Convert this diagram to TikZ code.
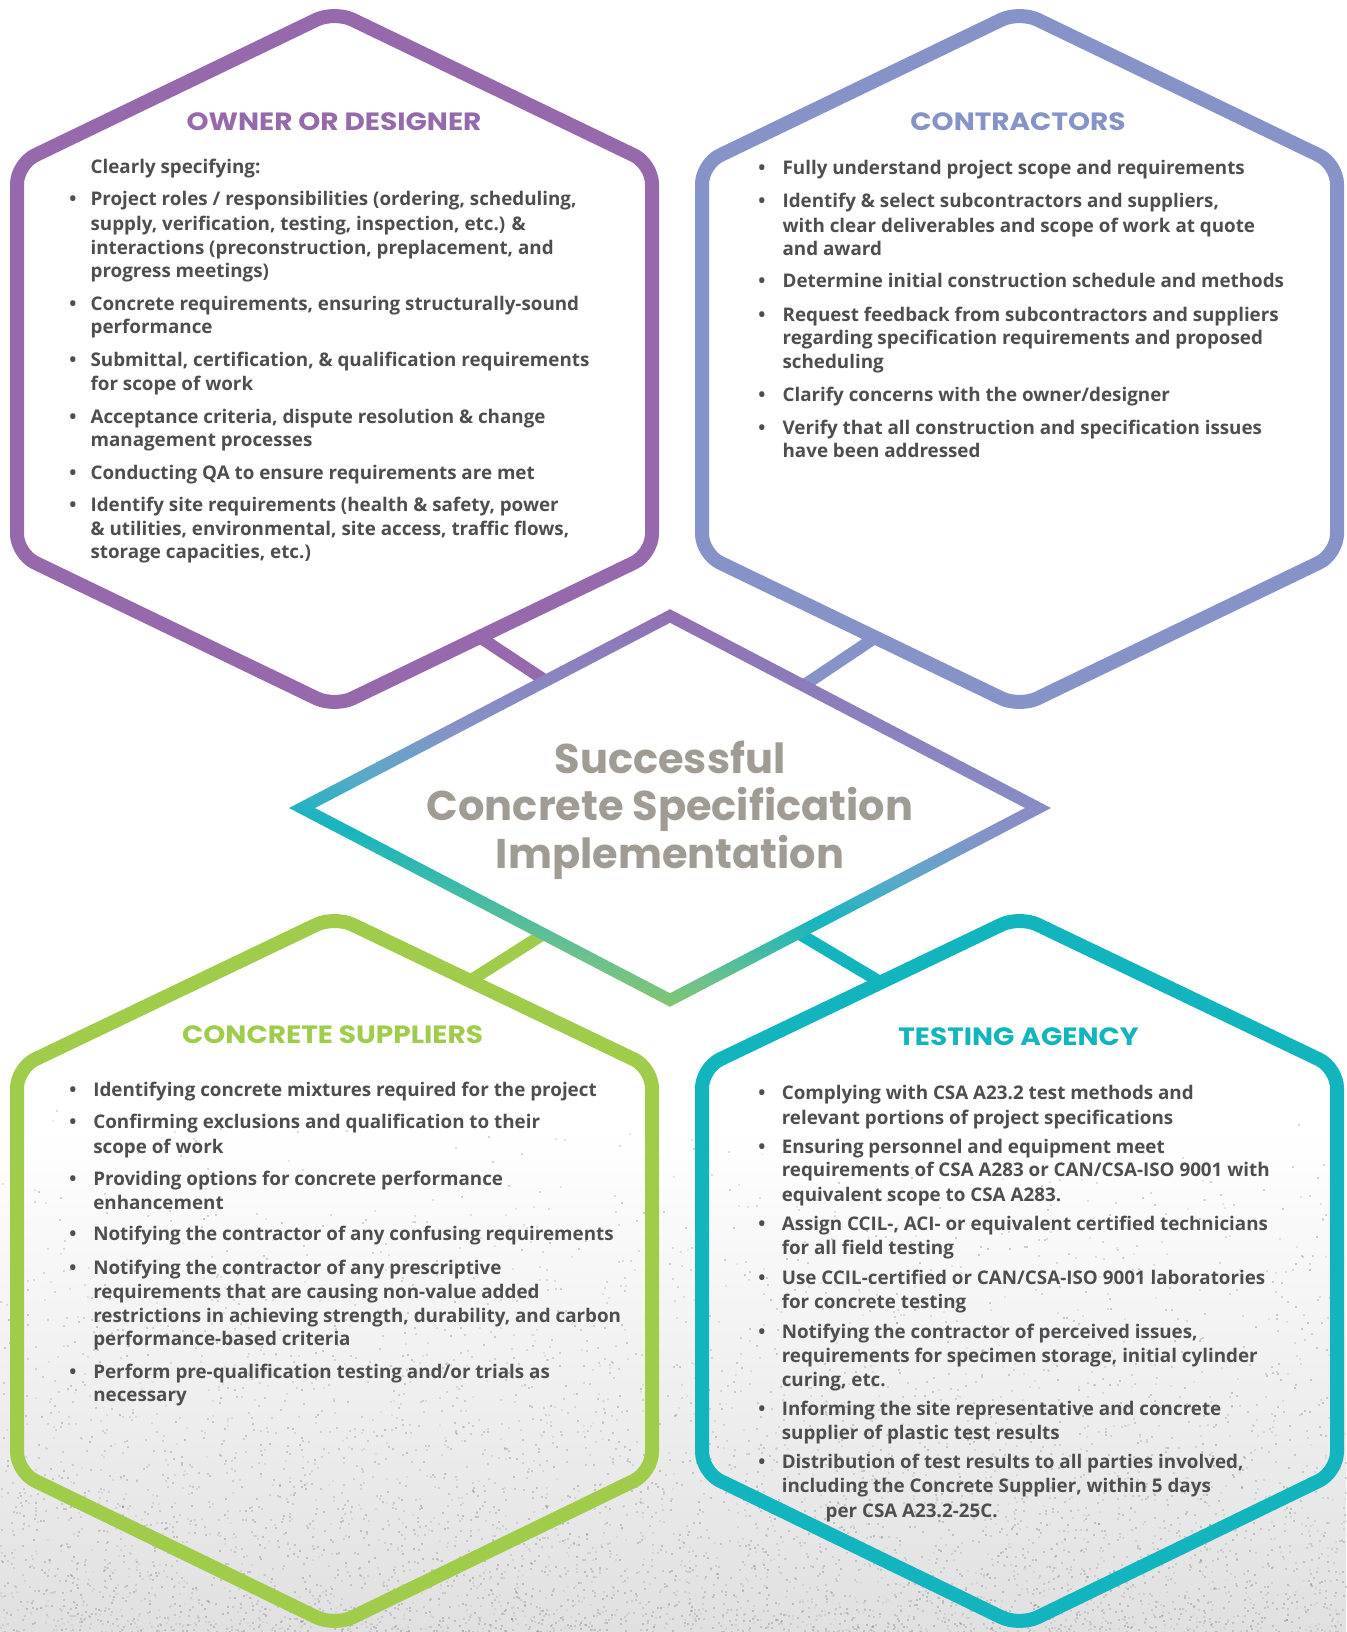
\documentclass[tikz,border=0pt]{standalone}
\usepackage{fontspec}
\setmainfont{Open Sans}
\newfontfamily\headfont{Poppins}
\newfontfamily\headwide{Poppins}[FakeStretch=1.12]
\usetikzlibrary{calc}
\definecolor{cpur}{HTML}{9669AD}
\definecolor{cblu}{HTML}{8593C8}
\definecolor{cgrn}{HTML}{9FCC4B}
\definecolor{ctea}{HTML}{12B5BE}
\definecolor{ctxt}{HTML}{4E4E50}
\definecolor{ctit}{HTML}{A09C94}
\definecolor{bgg}{HTML}{E0E0E0}
\definecolor{dP}{HTML}{9568AC}
\definecolor{dBP}{HTML}{8A84C0}
\definecolor{dB}{HTML}{8593C8}
\definecolor{dTB}{HTML}{5AA9C9}
\definecolor{dT}{HTML}{16B5BF}
\definecolor{dGT}{HTML}{6EC18C}
\definecolor{dG}{HTML}{96CA55}
\pgfdeclareverticalshading{dmdshade}{100bp}{color(0bp)=(dG); color(25bp)=(dG); color(32bp)=(dGT); color(41bp)=(dT); color(47bp)=(dTB); color(54bp)=(dB); color(62bp)=(dBP); color(75bp)=(dP); color(100bp)=(dP)}
\tikzset{
  hexline/.style={line width=14pt, rounded corners=20pt, line join=round},
  conn/.style={line width=12pt},
  bodytxt/.style={anchor=base west, inner sep=0pt, text=ctxt, font=\fontsize{18.8}{24}\selectfont\bfseries},
  bultxt/.style={anchor=base, inner sep=0pt, text=ctxt, font=\fontsize{18.8}{24}\selectfont\bfseries},
  headtxt/.style={anchor=base, inner sep=0pt, font=\headwide\fontsize{25}{28}\selectfont\bfseries},
  titletxt/.style={anchor=base, inner sep=0pt, text=ctit, font=\headfont\fontsize{41.5}{48}\selectfont\bfseries}
}
\newcommand\drawhex[7]{%
  \coordinate (#1-t) at (#2,#3);
  \coordinate (#1-r1) at (#2+317.5,#4);
  \coordinate (#1-r2) at (#2+317.5,#5);
  \coordinate (#1-b) at (#2,#6);
  \coordinate (#1-l2) at (#2-317.5,#5);
  \coordinate (#1-l1) at (#2-317.5,#4);
  \draw[hexline,draw=#7] (#1-t) -- (#1-r1) -- (#1-r2) -- (#1-b) -- (#1-l2) -- (#1-l1) -- cycle;}
\newcommand\tline[4]{\node[bodytxt] (#1) at (#2,#3+7) {#4};}
\newcommand\bul[3]{\node[bultxt] (#1) at (#2,#3+7) {\textbullet};}
\begin{document}
\begin{tikzpicture}[x=1pt,y=-1pt]
\useasboundingbox (0,0) rectangle (1346,1632);
\fill[white] (0,0) rectangle (1346,1632);
\shade[top color=white, bottom color=bgg] (0,1130) rectangle (1346,1632);
\pgfmathsetseed{12345}
\foreach \i in {1,...,5500}{
  \pgfmathsetmacro\sx{1346*rnd}
  \pgfmathsetmacro\sy{1632-540*rnd*rnd}
  \pgfmathsetmacro\sg{25+40*rnd}
  \fill[black!\sg!white, opacity=.3] (\sx,\sy) rectangle ++(2,2);
}
% connectors
\coordinate (pc-a) at (478,636);   \coordinate (pc-b) at (546,681);
\coordinate (bc-a) at (877,636.3); \coordinate (bc-b) at (803.5,685.6);
\coordinate (gc-a) at (470.6,980.4); \coordinate (gc-b) at (543.5,934.1);
\coordinate (tc-a) at (880.2,982); \coordinate (tc-b) at (798.2,933.1);
\draw[conn,cpur] (pc-a) -- (pc-b);
\draw[conn,cblu] (bc-a) -- (bc-b);
\draw[conn,cgrn] (gc-a) -- (gc-b);
\draw[conn,ctea] (tc-a) -- (tc-b);
% hexagons
\drawhex{p}{334.5}{11}{164}{554}{707}{cpur}
\drawhex{c}{1019.5}{11}{164}{554}{707}{cblu}
\drawhex{g}{334.5}{916}{1068}{1472}{1626}{cgrn}
\drawhex{q}{1019.5}{916}{1068}{1472}{1626}{ctea}
% diamond
\shade[shading=dmdshade, shading angle=-11, even odd rule]
 (670,808-198.8) -- (670+381,808) -- (670,808+198.8) -- (670-381,808) -- cycle
 (670,808-185.2) -- (670+355,808) -- (670,808+185.2) -- (670-355,808) -- cycle;
\node[titletxt] (ti1) at (670,773) {Successful};
\node[titletxt] (ti2) at (670,820) {Concrete Specification};
\node[titletxt] (ti3) at (670,868) {Implementation};
% headers
\node[headtxt,text=cpur] (hp) at (334,131) {OWNER OR DESIGNER};
\node[headtxt,text=cblu] (hc) at (1018,130.5) {CONTRACTORS};
\node[headtxt,text=cgrn] (hg) at (332.6,1043) {CONCRETE SUPPLIERS};
\node[headtxt,text=ctea] (hq) at (1018.5,1045) {TESTING AGENCY};
% owner or designer
\tline{o0}{90.4}{166.2}{Clearly specifying:}
\bul{ob1}{73}{198.3}\tline{o1}{90.4}{198.3}{Project roles / responsibilities (ordering, scheduling,}
\tline{o2}{90.4}{223.1}{supply, verification, testing, inspection, etc.) \&}
\tline{o3}{90.4}{247.0}{interactions (preconstruction, preplacement, and}
\tline{o4}{90.4}{270.9}{progress meetings)}
\bul{ob2}{73}{303.0}\tline{o5}{90.4}{303.0}{Concrete requirements, ensuring structurally-sound}
\tline{o6}{90.4}{326.9}{performance}
\bul{ob3}{73}{359.5}\tline{o7}{90.4}{359.5}{Submittal, certification, \& qualification requirements}
\tline{o8}{90.4}{383.8}{for scope of work}
\bul{ob4}{73}{416.0}\tline{o9}{90.4}{416.0}{Acceptance criteria, dispute resolution \& change}
\tline{o10}{90.4}{439.9}{management processes}
\bul{ob5}{73}{472.9}\tline{o11}{90.4}{472.9}{Conducting QA to ensure requirements are met}
\bul{ob6}{73}{504.1}\tline{o12}{90.4}{504.1}{Identify site requirements (health \& safety, power}
\tline{o13}{90.4}{528.0}{\& utilities, environmental, site access, traffic flows,}
\tline{o14}{90.4}{551.9}{storage capacities, etc.)}
% contractors
\bul{cb1}{761.8}{168}\tline{c1}{782.4}{168}{Fully understand project scope and requirements}
\bul{cb2}{761.8}{200.6}\tline{c2}{782.4}{200.6}{Identify \& select subcontractors and suppliers,}
\tline{c3}{782.4}{225}{with clear deliverables and scope of work at quote}
\tline{c4}{782.4}{248.9}{and award}
\bul{cb3}{761.8}{280.5}\tline{c5}{782.4}{280.5}{Determine initial construction schedule and methods}
\bul{cb4}{761.8}{314}\tline{c6}{782.4}{314}{Request feedback from subcontractors and suppliers}
\tline{c7}{782.4}{337.9}{regarding specification requirements and proposed}
\tline{c8}{782.4}{361.8}{scheduling}
\bul{cb5}{761.8}{394}\tline{c9}{782.4}{394}{Clarify concerns with the owner/designer}
\bul{cb6}{761.8}{427}\tline{c10}{782.4}{427}{Verify that all construction and specification issues}
\tline{c11}{782.4}{450}{have been addressed}
% concrete suppliers
\bul{sb1}{73}{1089}\tline{s1}{93.1}{1089}{Identifying concrete mixtures required for the project}
\bul{sb2}{73}{1121.8}\tline{s2}{93.1}{1121.8}{Confirming exclusions and qualification to their}
\tline{s3}{93.1}{1146}{scope of work}
\bul{sb3}{73}{1178.2}\tline{s4}{93.1}{1178.2}{Providing options for concrete performance}
\tline{s5}{93.1}{1202}{enhancement}
\bul{sb4}{73}{1233.8}\tline{s6}{93.1}{1233.8}{Notifying the contractor of any confusing requirements}
\bul{sb5}{73}{1267}\tline{s7}{93.1}{1267}{Notifying the contractor of any prescriptive}
\tline{s8}{93.1}{1291.2}{requirements that are causing non-value added}
\tline{s9}{93.1}{1315}{restrictions in achieving strength, durability, and carbon}
\tline{s10}{93.1}{1338.8}{performance-based criteria}
\bul{sb6}{73}{1371.5}\tline{s11}{93.1}{1371.5}{Perform pre-qualification testing and/or trials as}
\tline{s12}{93.1}{1394.9}{necessary}
% testing agency
\bul{tb1}{761.8}{1092.8}\tline{t1}{781.6}{1092.8}{Complying with CSA A23.2 test methods and}
\tline{t2}{781.6}{1117}{relevant portions of project specifications}
\bul{tb2}{761.8}{1146.5}\tline{t3}{781.6}{1146.5}{Ensuring personnel and equipment meet}
\tline{t4}{781.6}{1169.8}{requirements of CSA A283 or CAN/CSA-ISO 9001 with}
\tline{t5}{781.6}{1194}{equivalent scope to CSA A283.}
\bul{tb3}{761.8}{1223.5}\tline{t6}{781.6}{1223.5}{Assign CCIL-, ACI- or equivalent certified technicians}
\tline{t7}{781.6}{1247.8}{for all field testing}
\bul{tb4}{761.8}{1277.2}\tline{t8}{781.6}{1277.2}{Use CCIL-certified or CAN/CSA-ISO 9001 laboratories}
\tline{t9}{781.6}{1301.5}{for concrete testing}
\bul{tb5}{761.8}{1331.8}\tline{t10}{781.6}{1331.8}{Notifying the contractor of perceived issues,}
\tline{t11}{781.6}{1355.2}{requirements for specimen storage, initial cylinder}
\tline{t12}{781.6}{1379.5}{curing, etc.}
\bul{tb6}{761.8}{1408}\tline{t13}{781.6}{1408}{Informing the site representative and concrete}
\tline{t14}{781.6}{1432.2}{supplier of plastic test results}
\bul{tb7}{761.8}{1461.6}\tline{t15}{781.6}{1461.6}{Distribution of test results to all parties involved,}
\tline{t16}{781.6}{1485.9}{including the Concrete Supplier, within 5 days}
\tline{t17}{825.4}{1510.2}{per CSA A23.2-25C.}
\end{tikzpicture}
\end{document}
